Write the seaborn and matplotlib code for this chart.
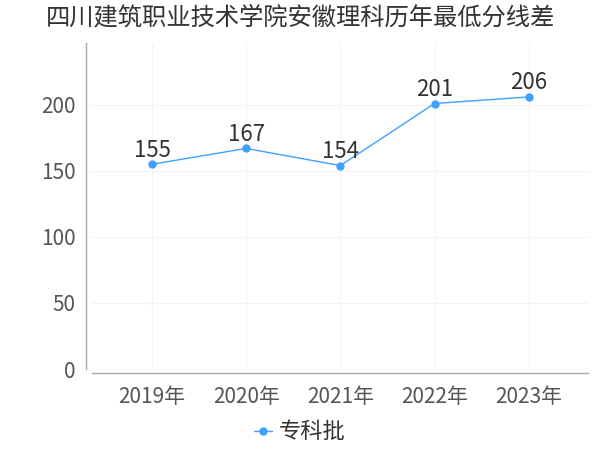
import pandas as pd
import matplotlib.pyplot as plt
import seaborn as sns

# data
years = ['2019年', '2020年', '2021年', '2022年', '2023年']
scores = [155, 167, 154, 201, 206]
series_name = '专科批'
title = '四川建筑职业技术学院安徽理科历年最低分线差'

df = pd.DataFrame({'year': years, 'score': scores, 'batch': series_name})

sns.set_style('white')
plt.rcParams['font.family'] = ['Noto Sans CJK SC', 'DejaVu Sans']

fig = plt.figure(figsize=(6, 4.5), dpi=100)
ax = fig.add_axes([0.153, 0.18, 0.827, 0.725])

sns.lineplot(data=df, x='year', y='score', hue='batch', palette=['#3fa0ff'],
             marker='o', markersize=6, markeredgewidth=0, linewidth=1, sort=False, ax=ax)

for i, v in enumerate(scores):
    ax.text(i, v + 2, str(v), ha='center', va='bottom', fontsize=16, color='#333333')

ax.set_xlim(-0.64, 4.63)
ax.set_ylim(0, 247)
ax.set_yticks([0, 50, 100, 150, 200])
ax.set_xlabel('')
ax.set_ylabel('')
ax.grid(True, color='#f3f3f3', linewidth=0.8)
ax.tick_params(axis='both', labelsize=15, labelcolor='#555555', colors='#999999', length=4, width=0.8)
ax.tick_params(axis='x', pad=5)

for s in ['top', 'right']:
    ax.spines[s].set_visible(False)
for s in ['left', 'bottom']:
    ax.spines[s].set_color('#aaaaaa')
    ax.spines[s].set_linewidth(1)
ax.spines['left'].set_position(('outward', 4))
ax.spines['bottom'].set_position(('outward', 3))

fig.suptitle(title, x=0.5, y=0.99, fontsize=17.5, color='#333333')

# legend centred on the figure, not on the axes
handles, labels = ax.get_legend_handles_labels()
ax.get_legend().remove()
fig.legend(handles, labels, loc='center', bbox_to_anchor=(0.5, 0.04), frameon=False,
           fontsize=16, handlelength=0.8, handletextpad=0.3, labelcolor='#333333')

fig.savefig('out.png', dpi=100)
